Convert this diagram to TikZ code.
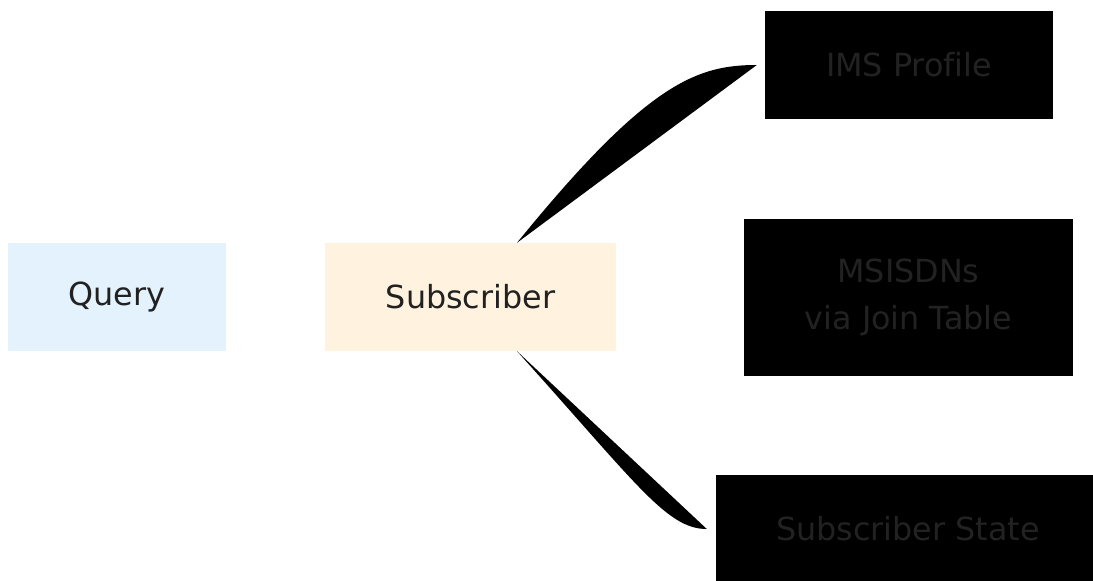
\documentclass[tikz,border=0pt]{standalone}
\usepackage{fontspec}
\setmainfont{DejaVu Sans}[Ligatures=NoCommon]
\definecolor{qfill}{HTML}{E3F2FD}
\definecolor{sfill}{HTML}{FFF3E0}
\definecolor{txt}{HTML}{212121}
\definecolor{dtxt}{HTML}{222222}
\begin{document}
\begin{tikzpicture}[x=1pt,y=1pt,
  box/.style={inner sep=0pt, align=center, font=\fontsize{31.8}{47.7}\selectfont},
  lightbox/.style={box, text=txt},
  darkbox/.style={box, fill=black, text=dtxt},
  conn/.style={fill=black}]
\useasboundingbox (0,0) rectangle (1093,-581);
\node[lightbox, fill=qfill, minimum width=218pt, minimum height=108pt] (q) at (117,-297) {Query};
\node[lightbox, fill=sfill, minimum width=291pt, minimum height=108pt] (sub) at (470.5,-297) {Subscriber};
\node[darkbox, minimum width=288pt, minimum height=108pt] (ims) at (909,-65) {IMS Profile};
\node[darkbox, minimum width=329pt, minimum height=157pt] (msi) at (908.5,-297.5) {MSISDNs\\via Join Table};
\node[darkbox, minimum width=384pt, minimum height=108pt] (st) at (908,-529) {Subscriber State};
\fill[conn] ([xshift=46.5pt]sub.north) .. controls +(130,160) and +(-60,0) .. ([xshift=-8pt]ims.west) -- cycle;
\fill[conn] ([xshift=46.5pt]sub.south) .. controls +(120,-133) and +(-40,0) .. ([xshift=-9pt]st.west) -- cycle;
\end{tikzpicture}
\end{document}
